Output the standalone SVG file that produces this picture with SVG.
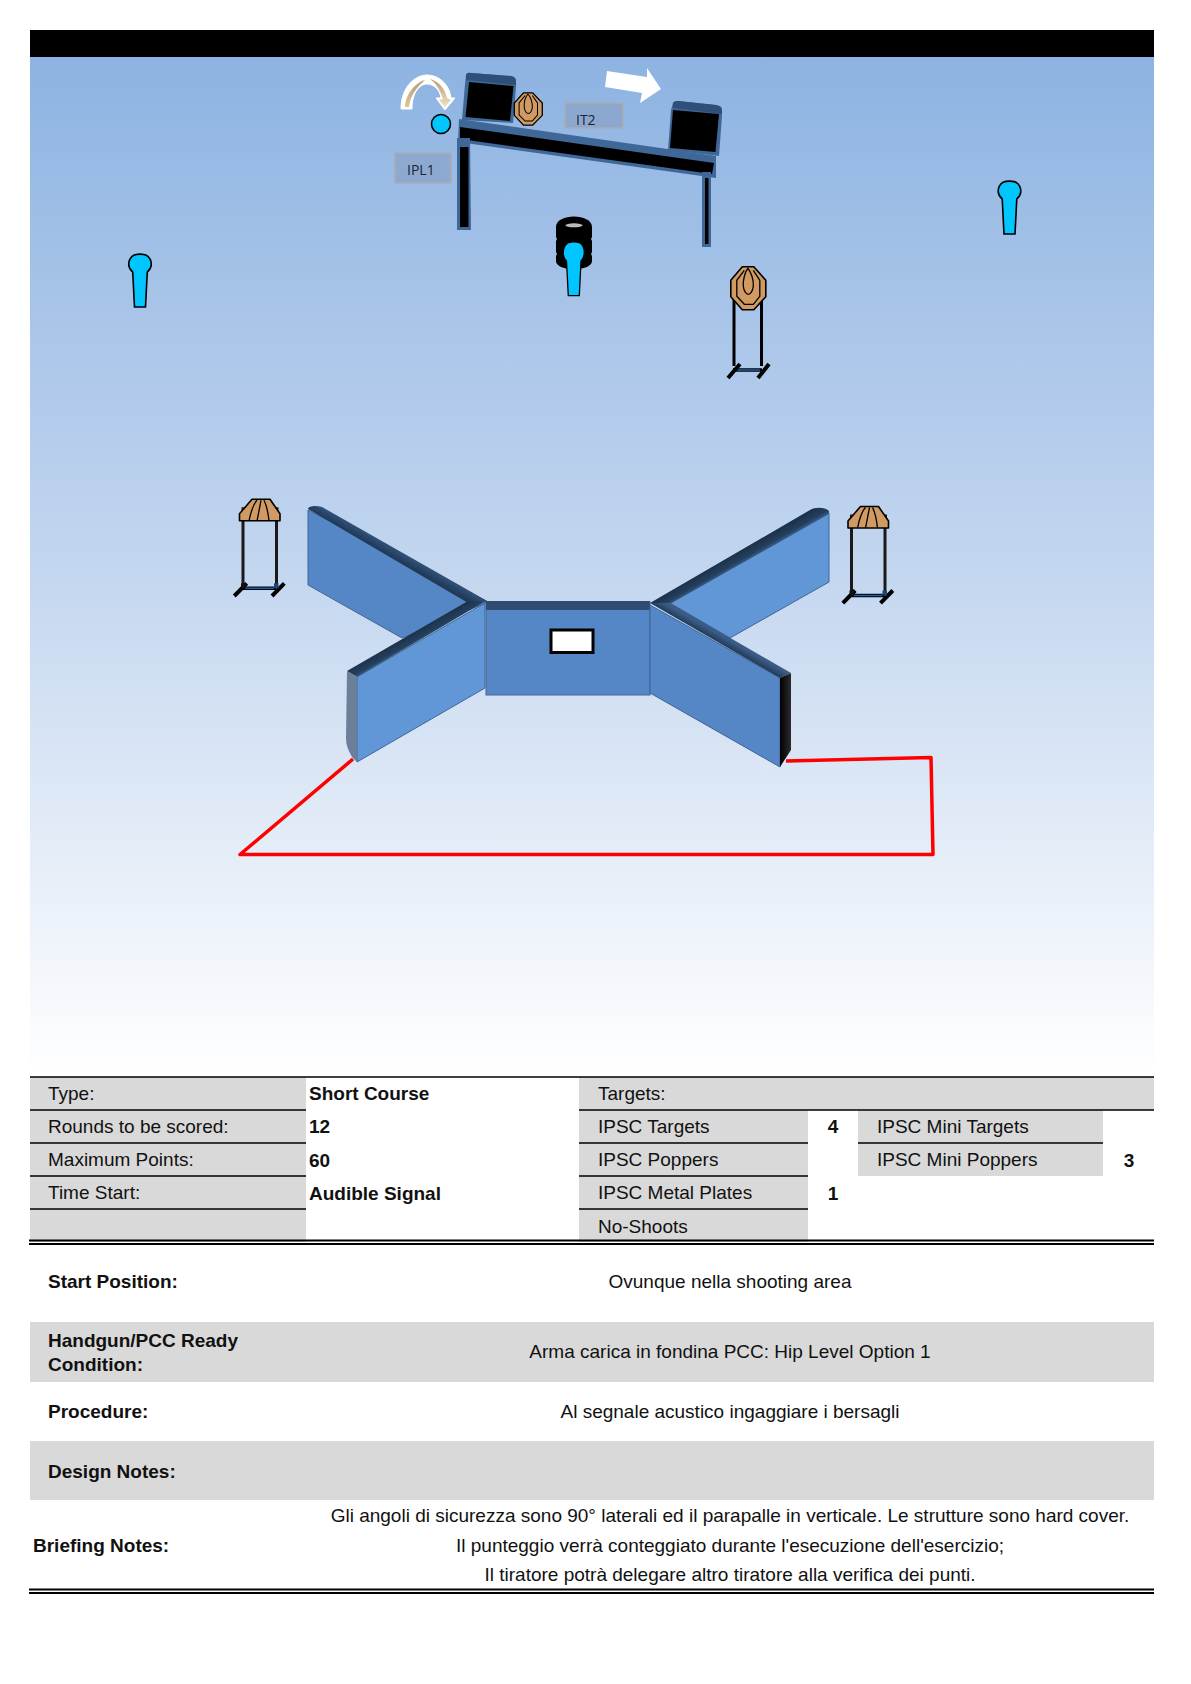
<svg xmlns="http://www.w3.org/2000/svg" width="1191" height="1684" viewBox="0 0 1191 1684">
<style>
text{font-family:"Liberation Sans",Arial,sans-serif;font-size:19px;fill:#111}
.b{font-weight:bold}
.c{text-anchor:middle}
.tag{fill:#8aa3c8;fill-opacity:.75;stroke:#a9adb3;stroke-width:1.5}
.tagt{font-family:"Open Sans","Noto Sans",sans-serif;font-size:14px;fill:#1a2536}
.gray{fill:#d9d9d9}
.rule{stroke:#000;stroke-width:1.6}
.dbl{stroke:#000;stroke-width:1.8}
.sh{fill:#00c5ff;stroke:#000;stroke-width:1.6}
.tg{fill:#d09a62;stroke:#000;stroke-width:1.6}
.tl{fill:none;stroke:#000;stroke-width:1.3}
.frame{fill:#3f6797}
.face1{fill:#5586c6;stroke:#3f6797;stroke-width:1}
.face2{fill:#6197d6;stroke:#3f6797;stroke-width:1}
.blk{fill:#000}
</style>
<defs>
<linearGradient id="sky" x1="0" y1="0" x2="0" y2="1"><stop offset="0" stop-color="#8db3e2"/><stop offset="0.5" stop-color="#c3d6ef"/><stop offset="1" stop-color="#ffffff"/></linearGradient>
<linearGradient id="arc" x1="0" y1="1" x2="0" y2="0"><stop offset="0" stop-color="#dcc596"/><stop offset="1" stop-color="#b99c72"/></linearGradient>
<linearGradient id="arr" x1="0" y1="0" x2="0" y2="1"><stop offset="0" stop-color="#b99c72"/><stop offset="1" stop-color="#f0e2c4"/></linearGradient>
<linearGradient id="band1" gradientUnits="userSpaceOnUse" x1="412" y1="632" x2="420" y2="646"><stop offset="0" stop-color="#1b3048"/><stop offset=".55" stop-color="#24405f"/><stop offset="1" stop-color="#527db0"/></linearGradient>
<linearGradient id="band2" gradientUnits="userSpaceOnUse" x1="400" y1="553" x2="392" y2="567"><stop offset="0" stop-color="#2e4e75"/><stop offset=".5" stop-color="#1f3855"/><stop offset="1" stop-color="#4a74a6"/></linearGradient>
<linearGradient id="band3" gradientUnits="userSpaceOnUse" x1="730" y1="556" x2="738" y2="570"><stop offset="0" stop-color="#1b3048"/><stop offset=".55" stop-color="#24405f"/><stop offset="1" stop-color="#527db0"/></linearGradient>
<linearGradient id="band4" gradientUnits="userSpaceOnUse" x1="722" y1="636" x2="714" y2="650"><stop offset="0" stop-color="#3a5c86"/><stop offset=".5" stop-color="#1f3855"/><stop offset="1" stop-color="#3f6797"/></linearGradient>
<linearGradient id="endB" x1="0" y1="0" x2="1" y2="0"><stop offset="0" stop-color="#000"/><stop offset="1" stop-color="#2c2c2c"/></linearGradient>
<g id="shooter"><path class="sh" d="M-7.300 8C-12.500 4-11.700-2-10-5-7-11.500 7-11.500 10-5 11.700-2 12.500 4 7.300 8L5.500 43H-5.500Z"/></g>
<g id="octagon">
<polygon class="tg" points="-6,-21.500 5.500,-21.500 17.500,-8 17.500,8.500 5.500,21.500 -6,21.500 -17.500,8.500 -17.500,-8"/>
<path class="tl" d="M-4,-18 L-11.500,-8 V8 L-4,16 H5 L11.500,8 V-8 L5,-18"/>
<path class="tl" d="M-.5,-20 C3,-16 5.500,-8 5,-2 C4.500,3 2,6 0,6 C-2,6 -4.500,3 -5,-2 C-5.500,-8 -3.500,-16 -.5,-20Z"/>
</g>
<g id="popper">
<path d="M-17 21V87M16.500 21V87" stroke="#1a1a1a" stroke-width="3" fill="none"/>
<path d="M-17 89H16.500" stroke="#000" stroke-width="3.500"/>
<path d="M-15 89H14" stroke="#1f5fa6" stroke-width="1.500"/>
<path d="M-25.700 96.700L-13.300 84M12 96.700L24.300 84" stroke="#000" stroke-width="4"/>
<rect x="-19" y="84" width="4.500" height="5" fill="#111"/><rect x="14" y="84" width="4.500" height="5" fill="#16467f"/>
<path d="M-17 14v-6M17 14v-6" stroke="#222" stroke-width="3"/>
<path class="tg" d="M-20.500 21.500V14.500L-8 0H10L20 14.500V21.500Z" stroke-linejoin="round"/>
<path class="tl" d="M-11 21.500C-9 12-7 5-3 1M-3 21.500C-1 12 0 6 1 1M9 21.500C8 12 6 5 4 1"/>
</g>
</defs>
<rect id="background" x="30" y="57" width="1124" height="1020" fill="url(#sky)"/>
<rect id="header" x="30" y="30" width="1124" height="27" fill="#000"/>

<g id="barricade">
<path class="frame" d="M466 75Q467 72 471 73L511 76Q516 77 516 81V87L513 123 462 120 465 84Z"/>
<polygon class="blk" points="469,82 513.500,86 510,121 465.500,117"/>
<path d="M466 75Q467 72 471 73L511 76Q516 77 516 81V85L466 80Z" fill="#2e4f78"/>
<path class="frame" d="M673 103Q674 101 678 101L716 105Q722 106 722 110V116L719 156 668 150 671 110Z"/>
<polygon class="blk" points="673,110 719,114 715.500,152 670,148"/>
<path d="M673 103Q674 101 678 101L716 105Q722 106 722 110V114L673 108Z" fill="#2e4f78"/>
<polygon class="frame" points="459,119 716,156 716,178 458,142"/>
<polygon class="blk" points="460,127 714,163 712,174 460,139"/>
<polygon class="frame" points="457,138 470,138 471,230 457,230"/>
<rect class="blk" x="460" y="147" width="8.500" height="80"/>
<polygon class="frame" points="702,172 711,172 711,247 702,247"/>
<rect class="blk" x="705" y="178" width="3.500" height="66"/>
</g>
<g id="target-t2"><use href="#octagon" transform="translate(528.300,109) scale(.8,.75)"/></g>
<g id="move-arc">
<path d="M401 109C401 87 415 75 427 75C440 75 450 86 451 98L455 98 445 110 436 98 441 98C440 90 434 84 427 84C420 84 412 92 412 109Z" fill="#fff" stroke="#fff" stroke-width="1"/>
<path d="M405 107C406 92 417 82 425 80C418 86 410 95 409 107Z" fill="url(#arc)"/>
<path d="M430 79C438 81 445 88 447 98L451 100 445 107 439 100 443 99C440 90 436 83 430 79Z" fill="url(#arr)"/>
</g>
<circle id="start-dot" class="sh" cx="441" cy="124" r="9.500"/>
<g id="label-ipl1"><rect class="tag" x="395" y="153" width="56" height="30"/><text class="tagt" x="407" y="175">IPL1</text></g>
<g id="label-it2"><rect class="tag" x="565" y="103" width="58" height="25"/><text class="tagt" x="576" y="125">IT2</text></g>
<polygon id="move-arrow" points="607,71 647,77 647,68 661,89 640,103 642,93 605,87" fill="#fff"/>
<g id="barrel">
<path class="blk" d="M556 227C556 213 592 213 592 227V237L591 239 592 241V252L591 254 592 256V261C592 272 556 272 556 261V256L557 254 556 252V241L557 239 556 237Z"/>
<ellipse cx="574" cy="225.300" rx="8.700" ry="2" fill="#bbb"/>
</g>
<g id="shooter-centre"><path d="M568.300 295.700 566.500 261C561 256 563 246 568 243 571 241.500 577 241.500 580 243 585 246 586 256 581 261L579.300 295.700Z" fill="#00c5ff" stroke="#000" stroke-width="1.300"/></g>
<use id="shooter-left" href="#shooter" transform="translate(140,264)"/>
<use id="shooter-right" href="#shooter" transform="translate(1009.500,191)"/>
<g id="target-right">
<path d="M734 300V366M761.500 300V366" stroke="#000" stroke-width="3" fill="none"/>
<path d="M733 370H762" stroke="#000" stroke-width="3.500"/>
<path d="M735 370H760" stroke="#1f5fa6" stroke-width="1.500"/>
<path d="M728 378L740 364M758 378L769 364" stroke="#000" stroke-width="4"/>
<use href="#octagon" transform="translate(748.300,288.300)"/>
</g>
<use id="popper-left" href="#popper" transform="translate(260,499.300)"/>
<use id="popper-right" href="#popper" transform="translate(868.500,506.500)"/>

<g id="walls">
<polygon class="face1" points="308,510 488,602 402,638 308,585"/>
<path d="M308 509C308 506 316 505 322 507L489 602 468 603Z" fill="url(#band2)"/>
<polygon class="face2" points="670,603 829,513 829,582 730,638"/>
<path d="M650 603L810 510C815 507 825 507 829 511V514L670 604Z" fill="url(#band3)"/>
<rect class="face1" x="486" y="602" width="164" height="93" stroke-width="2"/>
<rect x="486" y="601" width="164" height="9" fill="#2f4d73"/>
<polygon class="face2" points="357,677 485,603 485,688 357,762"/>
<path d="M347 671L468 601 484 602 357 677Z" fill="url(#band1)"/>
<path d="M347 671L357 677V762L352 757C348 750 346 745 346 738Z" fill="#6c7f98"/>
<polygon class="face1" points="650,605 780,678 780,767 650,693"/>
<path d="M650 603H670L791 673 780 678Z" fill="url(#band4)"/>
<polygon points="780,678 791,673 791,750 780,767" fill="url(#endB)"/>
<rect id="port" x="551" y="630" width="42" height="22.500" fill="#fff" stroke="#000" stroke-width="3"/>
</g>
<g id="connectors"><polyline points="353,759 240,854.500 933,854.500 931,757.500 786,761" fill="none" stroke="#f00" stroke-width="3.500" stroke-linejoin="round"/></g>

<g id="table-top">
<rect class="gray" x="30" y="1077" width="276" height="165"/>
<rect class="gray" x="579" y="1077" width="229" height="165"/>
<rect class="gray" x="579" y="1077" width="575" height="33"/>
<rect class="gray" x="858" y="1110" width="245" height="66"/>
<path class="rule" d="M30 1077H1154M30 1110H306M579 1110H1154M30 1143H306M579 1143H808M858 1143H1103M30 1176H306M579 1176H808M30 1209H306M579 1209H808"/>
<path class="dbl" d="M29 1240.500H1154M29 1244H1154"/>
<text x="48" y="1100">Type:</text><text x="48" y="1133">Rounds to be scored:</text><text x="48" y="1166">Maximum Points:</text><text x="48" y="1199">Time Start:</text>
<text class="b" x="309" y="1100">Short Course</text><text class="b" x="309" y="1133">12</text><text class="b" x="309" y="1167">60</text><text class="b" x="309" y="1200">Audible Signal</text>
<text x="598" y="1100">Targets:</text><text x="598" y="1133">IPSC Targets</text><text x="598" y="1166">IPSC Poppers</text><text x="598" y="1199">IPSC Metal Plates</text><text x="598" y="1233">No-Shoots</text>
<text class="b c" x="833" y="1133">4</text><text class="b c" x="833" y="1200">1</text>
<text x="877" y="1133">IPSC Mini Targets</text><text x="877" y="1166">IPSC Mini Poppers</text><text class="b c" x="1129" y="1167">3</text>
</g>
<g id="table-notes">
<rect class="gray" x="30" y="1322" width="1124" height="60"/>
<rect class="gray" x="30" y="1441" width="1124" height="59"/>
<text class="b" x="48" y="1288">Start Position:</text><text class="c" x="730" y="1288">Ovunque nella shooting area</text>
<text class="b" x="48" y="1347">Handgun/PCC Ready</text><text class="b" x="48" y="1371">Condition:</text><text class="c" x="730" y="1358">Arma carica in fondina PCC: Hip Level Option 1</text>
<text class="b" x="48" y="1418">Procedure:</text><text class="c" x="730" y="1418">Al segnale acustico ingaggiare i bersagli</text>
<text class="b" x="48" y="1478">Design Notes:</text>
<text class="b" x="33" y="1552">Briefing Notes:</text>
<text class="c" x="730" y="1522">Gli angoli di sicurezza sono 90° laterali ed il parapalle in verticale. Le strutture sono hard cover.</text>
<text class="c" x="730" y="1552">Il punteggio verrà conteggiato durante l'esecuzione dell'esercizio;</text>
<text class="c" x="730" y="1581">Il tiratore potrà delegare altro tiratore alla verifica dei punti.</text>
<path class="dbl" d="M29 1589.500H1154M29 1593H1154"/>
</g>
</svg>
